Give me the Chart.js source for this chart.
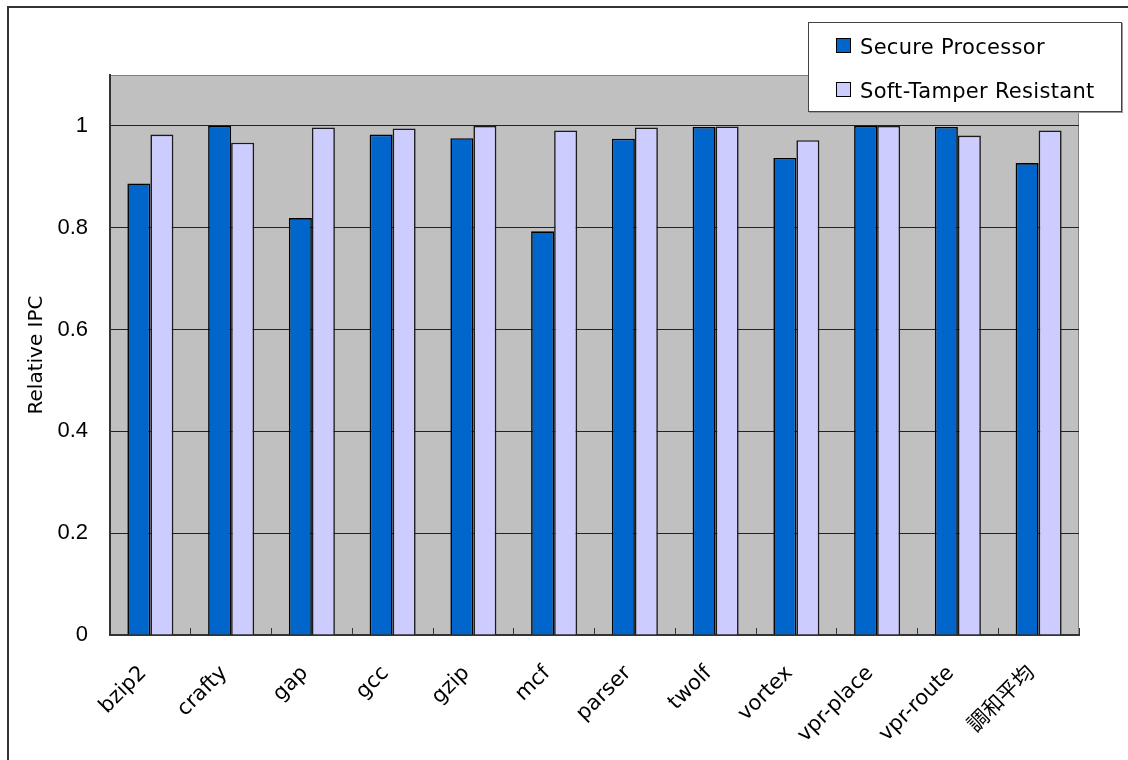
<!DOCTYPE html>
<html>
<head>
<meta charset="utf-8">
<script src="https://cdn.jsdelivr.net/npm/chart.js@4.4.0/dist/chart.umd.min.js"></script>
<style>
    html, body { margin: 0; padding: 0; background: #fff; }
    #wrap { position: relative; width: 1128px; height: 760px; overflow: hidden; }
    #frame { position: absolute; left: 7px; top: 6px; width: 1200px; height: 800px;
             border-left: 2px solid #333; border-top: 2px solid #333; }
    #chart { position: absolute; left: 0; top: 0; }
    #legend { position: absolute; left: 808px; top: 22px; width: 312px; height: 88px;
              border: 1px solid #444; background: #fff; box-shadow: 1px 1px 0 #999;
              font: 21px "DejaVu Sans", sans-serif; color: #000; letter-spacing: 0.3px; }
    .sw { position: absolute; left: 27px; width: 13px; height: 13px; border: 1px solid #000; }
    .lbl { position: absolute; left: 51px; line-height: 24px; white-space: nowrap; }
</style>
</head>
<body>
<div id="wrap">
    <div id="frame"></div>
    <canvas id="chart" width="1128" height="760"></canvas>
    <div id="legend"></div>
</div>
<script>
// --- Données ---
const categories = ['bzip2', 'crafty', 'gap', 'gcc', 'gzip', 'mcf', 'parser', 'twolf',
                    'vortex', 'vpr-place', 'vpr-route', '調和平均'];
const secureProcessor = [0.887, 1.0, 0.819, 0.983, 0.976, 0.793, 0.975, 0.998, 0.937, 1.0, 0.998, 0.927];
const softTamper = [0.983, 0.967, 0.997, 0.995, 1.0, 0.991, 0.997, 0.999, 0.972, 1.0, 0.981, 0.991];
const seriesNames = ['Secure Processor', 'Soft-Tamper Resistant'];
const seriesColors = ['#0066CC', '#CCCCFF'];
const yTicks = [0, 0.2, 0.4, 0.6, 0.8, 1];
const yMax = 1.1;

// --- Fond gris de la zone de tracé ---
const plotBackground = {
    id: 'plotBackground',
    beforeDraw(chart) {
        const { ctx, chartArea: a } = chart;
        ctx.save();
        ctx.fillStyle = '#C0C0C0';
        ctx.fillRect(a.left, a.top, a.right - a.left, a.bottom - a.top);
        ctx.strokeStyle = '#808080';
        ctx.lineWidth = 1;
        ctx.strokeRect(a.left + 0.5, a.top + 0.5, a.right - a.left - 1, a.bottom - a.top - 1);
        ctx.restore();
    }
};

Chart.defaults.font.family = '"DejaVu Sans", "Noto Sans CJK JP", sans-serif';
Chart.defaults.color = '#000';

const ctx = document.getElementById('chart').getContext('2d');
const chart = new Chart(ctx, {
    type: 'bar',
    data: {
        labels: categories,
        datasets: [
            { label: seriesNames[0], data: secureProcessor, backgroundColor: seriesColors[0],
              borderColor: '#000', borderWidth: 1.6 },
            { label: seriesNames[1], data: softTamper, backgroundColor: seriesColors[1],
              borderColor: '#1a1a1a', borderWidth: 1.6 }
        ]
    },
    options: {
        responsive: false,
        animation: false,
        categoryPercentage: 0.57,
        barPercentage: 1.0,
        layout: { padding: { left: 0, top: 75, right: 49, bottom: 0 } },
        plugins: { legend: { display: false }, tooltip: { enabled: false } },
        scales: {
            x: {
                afterFit: s => { s.height = 125; },
                grid: { display: true, drawOnChartArea: false, drawTicks: true, tickLength: -7, color: '#333' },
                border: { color: '#333', width: 2 },
                ticks: { autoSkip: false, maxRotation: 45, minRotation: 45, padding: 33,
                         labelOffset: -7, font: { size: 21 } }
            },
            y: {
                min: 0,
                max: yMax,
                afterFit: s => { s.width = 110; },
                afterBuildTicks: s => { s.ticks = [...yTicks, yMax].map(v => ({ value: v })); },
                grid: { drawTicks: false, color: c => (c.tick && c.tick.value > 1.05) ? '#808080' : '#222' },
                border: { color: '#333', width: 2 },
                ticks: { padding: 22, font: { family: '"Liberation Sans", Arial, sans-serif', size: 22 },
                         callback: v => v > 1.05 ? '' : String(v) },
                title: { display: true, text: 'Relative IPC', font: { size: 20 },
                         padding: { top: 25, bottom: 0 } }
            }
        }
    },
    plugins: [plotBackground]
});

// --- Légende (encadré en haut à droite) ---
const legend = document.getElementById('legend');
seriesNames.forEach((name, i) => {
    const sw = document.createElement('span');
    sw.className = 'sw';
    sw.style.top = (15 + i * 44) + 'px';
    sw.style.background = seriesColors[i];
    const lbl = document.createElement('span');
    lbl.className = 'lbl';
    lbl.style.top = (12 + i * 44) + 'px';
    lbl.textContent = name;
    legend.appendChild(sw);
    legend.appendChild(lbl);
});
</script>
</body>
</html>
